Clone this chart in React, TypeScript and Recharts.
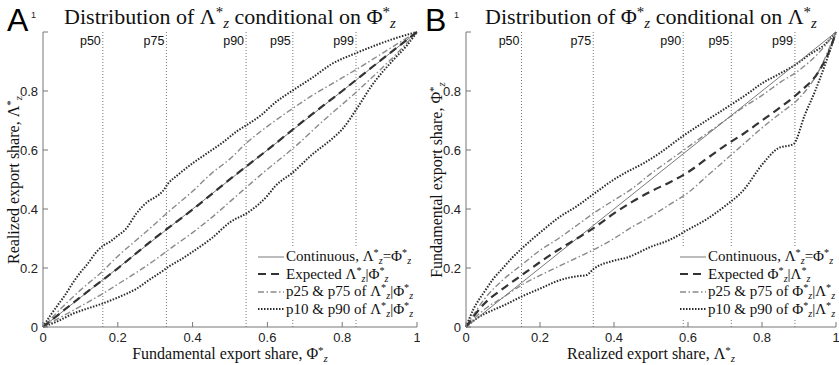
import React from "react";
import { LineChart, Line, XAxis, YAxis, ReferenceLine } from "recharts";

type Pt = { x: number; y: number };

const TICKS = [0, 0.2, 0.4, 0.6, 0.8, 1];
const PCT_LABELS = ["p50", "p75", "p90", "p95", "p99"];
const A_PCT_X = [0.16, 0.33, 0.543, 0.668, 0.837];
const B_PCT_X = [0.15, 0.344, 0.587, 0.717, 0.889];

// Panel A: Lambda conditional on Phi
const A_CONT: Pt[] = [{ x: 0, y: 0 }, { x: 1, y: 1 }];
const A_EXP: Pt[] = [
  { x: 0, y: 0 }, { x: 0.1, y: 0.101 }, { x: 0.2, y: 0.199 }, { x: 0.3, y: 0.302 },
  { x: 0.4, y: 0.398 }, { x: 0.5, y: 0.501 }, { x: 0.6, y: 0.6 }, { x: 0.7, y: 0.702 },
  { x: 0.8, y: 0.8 }, { x: 0.9, y: 0.901 }, { x: 1, y: 1 },
];
const A_P75: Pt[] = [
  { x: 0, y: 0 }, { x: 0.05, y: 0.065 }, { x: 0.1, y: 0.125 }, { x: 0.16, y: 0.19 },
  { x: 0.2, y: 0.24 }, { x: 0.25, y: 0.295 }, { x: 0.3, y: 0.35 }, { x: 0.335, y: 0.39 },
  { x: 0.4, y: 0.46 }, { x: 0.45, y: 0.52 }, { x: 0.5, y: 0.57 }, { x: 0.545, y: 0.625 },
  { x: 0.6, y: 0.68 }, { x: 0.669, y: 0.742 }, { x: 0.72, y: 0.785 }, { x: 0.78, y: 0.83 },
  { x: 0.839, y: 0.874 }, { x: 0.9, y: 0.922 }, { x: 0.95, y: 0.962 }, { x: 1, y: 1 },
];
const A_P25: Pt[] = [
  { x: 0, y: 0 }, { x: 0.05, y: 0.035 }, { x: 0.1, y: 0.07 }, { x: 0.161, y: 0.114 },
  { x: 0.2, y: 0.145 }, { x: 0.25, y: 0.185 }, { x: 0.3, y: 0.228 }, { x: 0.335, y: 0.261 },
  { x: 0.4, y: 0.32 }, { x: 0.45, y: 0.37 }, { x: 0.5, y: 0.425 }, { x: 0.545, y: 0.475 },
  { x: 0.6, y: 0.535 }, { x: 0.669, y: 0.606 }, { x: 0.75, y: 0.7 }, { x: 0.839, y: 0.798 },
  { x: 0.9, y: 0.87 }, { x: 0.95, y: 0.932 }, { x: 1, y: 1 },
];
const A_P90: Pt[] = [
  { x: 0, y: 0 }, { x: 0.02, y: 0.04 }, { x: 0.04, y: 0.075 }, { x: 0.06, y: 0.11 },
  { x: 0.08, y: 0.15 }, { x: 0.1, y: 0.185 }, { x: 0.12, y: 0.215 }, { x: 0.14, y: 0.25 },
  { x: 0.16, y: 0.275 }, { x: 0.18, y: 0.29 }, { x: 0.2, y: 0.31 }, { x: 0.22, y: 0.33 },
  { x: 0.25, y: 0.385 }, { x: 0.28, y: 0.425 }, { x: 0.3, y: 0.44 }, { x: 0.32, y: 0.46 },
  { x: 0.335, y: 0.487 }, { x: 0.36, y: 0.515 }, { x: 0.4, y: 0.555 }, { x: 0.44, y: 0.59 },
  { x: 0.48, y: 0.625 }, { x: 0.52, y: 0.665 }, { x: 0.545, y: 0.685 }, { x: 0.58, y: 0.715 },
  { x: 0.62, y: 0.76 }, { x: 0.669, y: 0.803 }, { x: 0.72, y: 0.845 }, { x: 0.77, y: 0.89 },
  { x: 0.84, y: 0.93 }, { x: 0.9, y: 0.96 }, { x: 0.95, y: 0.982 }, { x: 1, y: 1 },
];
const A_P10: Pt[] = [
  { x: 0, y: 0 }, { x: 0.04, y: 0.02 }, { x: 0.08, y: 0.045 }, { x: 0.12, y: 0.063 },
  { x: 0.16, y: 0.08 }, { x: 0.2, y: 0.1 }, { x: 0.25, y: 0.13 }, { x: 0.29, y: 0.165 },
  { x: 0.32, y: 0.19 }, { x: 0.335, y: 0.204 }, { x: 0.37, y: 0.23 }, { x: 0.4, y: 0.255 },
  { x: 0.45, y: 0.3 }, { x: 0.5, y: 0.355 }, { x: 0.55, y: 0.39 }, { x: 0.6, y: 0.445 },
  { x: 0.62, y: 0.476 }, { x: 0.669, y: 0.525 }, { x: 0.72, y: 0.585 }, { x: 0.77, y: 0.635 },
  { x: 0.8, y: 0.67 }, { x: 0.84, y: 0.742 }, { x: 0.88, y: 0.82 }, { x: 0.94, y: 0.91 },
  { x: 0.97, y: 0.95 }, { x: 1, y: 1 },
];

// Panel B: Phi conditional on Lambda
const B_CONT: Pt[] = [{ x: 0, y: 0 }, { x: 1, y: 1 }];
const B_EXP: Pt[] = [
  { x: 0, y: 0 }, { x: 0.05, y: 0.08 }, { x: 0.1, y: 0.13 }, { x: 0.15, y: 0.175 },
  { x: 0.2, y: 0.22 }, { x: 0.25, y: 0.262 }, { x: 0.3, y: 0.3 }, { x: 0.35, y: 0.34 },
  { x: 0.4, y: 0.385 }, { x: 0.45, y: 0.425 }, { x: 0.5, y: 0.46 }, { x: 0.55, y: 0.49 },
  { x: 0.6, y: 0.525 }, { x: 0.65, y: 0.57 }, { x: 0.7, y: 0.615 }, { x: 0.75, y: 0.655 },
  { x: 0.8, y: 0.7 }, { x: 0.85, y: 0.745 }, { x: 0.9, y: 0.795 }, { x: 0.95, y: 0.86 },
  { x: 0.98, y: 0.93 }, { x: 1, y: 1 },
];
const B_P75: Pt[] = [
  { x: 0, y: 0 }, { x: 0.05, y: 0.095 }, { x: 0.1, y: 0.16 }, { x: 0.15, y: 0.21 },
  { x: 0.2, y: 0.26 }, { x: 0.25, y: 0.3 }, { x: 0.3, y: 0.345 }, { x: 0.35, y: 0.39 },
  { x: 0.4, y: 0.43 }, { x: 0.45, y: 0.47 }, { x: 0.5, y: 0.52 }, { x: 0.55, y: 0.565 },
  { x: 0.6, y: 0.61 }, { x: 0.65, y: 0.655 }, { x: 0.7, y: 0.7 }, { x: 0.75, y: 0.745 },
  { x: 0.8, y: 0.785 }, { x: 0.85, y: 0.83 }, { x: 0.9, y: 0.87 }, { x: 0.95, y: 0.925 },
  { x: 1, y: 1 },
];
const B_P25: Pt[] = [
  { x: 0, y: 0 }, { x: 0.05, y: 0.06 }, { x: 0.1, y: 0.1 }, { x: 0.15, y: 0.142 },
  { x: 0.2, y: 0.175 }, { x: 0.25, y: 0.205 }, { x: 0.3, y: 0.235 }, { x: 0.35, y: 0.265 },
  { x: 0.4, y: 0.3 }, { x: 0.45, y: 0.34 }, { x: 0.5, y: 0.375 }, { x: 0.55, y: 0.415 },
  { x: 0.6, y: 0.455 }, { x: 0.65, y: 0.51 }, { x: 0.7, y: 0.565 }, { x: 0.75, y: 0.62 },
  { x: 0.8, y: 0.675 }, { x: 0.85, y: 0.725 }, { x: 0.9, y: 0.775 }, { x: 0.95, y: 0.86 },
  { x: 1, y: 1 },
];
const B_P90: Pt[] = [
  { x: 0, y: 0 }, { x: 0.02, y: 0.06 }, { x: 0.05, y: 0.12 }, { x: 0.075, y: 0.165 },
  { x: 0.1, y: 0.2 }, { x: 0.125, y: 0.235 }, { x: 0.15, y: 0.265 }, { x: 0.2, y: 0.32 },
  { x: 0.254, y: 0.374 }, { x: 0.3, y: 0.41 }, { x: 0.344, y: 0.45 }, { x: 0.4, y: 0.5 },
  { x: 0.434, y: 0.525 }, { x: 0.48, y: 0.555 }, { x: 0.524, y: 0.59 }, { x: 0.587, y: 0.648 },
  { x: 0.65, y: 0.7 }, { x: 0.718, y: 0.755 }, { x: 0.76, y: 0.79 }, { x: 0.8, y: 0.826 },
  { x: 0.85, y: 0.86 }, { x: 0.889, y: 0.888 }, { x: 0.93, y: 0.925 }, { x: 0.97, y: 0.958 },
  { x: 1, y: 1 },
];
const B_P10: Pt[] = [
  { x: 0, y: 0 }, { x: 0.03, y: 0.03 }, { x: 0.074, y: 0.058 }, { x: 0.1, y: 0.072 },
  { x: 0.15, y: 0.103 }, { x: 0.2, y: 0.13 }, { x: 0.254, y: 0.159 }, { x: 0.3, y: 0.172 },
  { x: 0.326, y: 0.176 }, { x: 0.344, y: 0.196 }, { x: 0.4, y: 0.225 }, { x: 0.434, y: 0.235 },
  { x: 0.5, y: 0.272 }, { x: 0.55, y: 0.295 }, { x: 0.6, y: 0.33 }, { x: 0.65, y: 0.365 },
  { x: 0.7, y: 0.41 }, { x: 0.75, y: 0.464 }, { x: 0.8, y: 0.55 }, { x: 0.844, y: 0.606 },
  { x: 0.885, y: 0.62 }, { x: 0.916, y: 0.72 }, { x: 0.943, y: 0.798 }, { x: 0.97, y: 0.888 },
  { x: 1, y: 1 },
];

const SERIF = "'Liberation Serif', 'Times New Roman', serif";
const SANS = "'Liberation Sans', Arial, sans-serif";
const FRAME = "#777";

const STYLES = {
  cont: { stroke: "#7a7a7a", strokeWidth: 1, dash: undefined as string | undefined },
  exp: { stroke: "#333", strokeWidth: 2.2, dash: "8 5" },
  q: { stroke: "#8a8a8a", strokeWidth: 1.4, dash: "6 2.5 1.5 2.5" },
  d: { stroke: "#2a2a2a", strokeWidth: 2, dash: "1.5 1.5" },
};

// symbol with * superscript and z subscript
const Sym = ({ b }: { b: string }) => (
  <span>
    {b}
    <span style={{ fontSize: "0.68em", verticalAlign: "0.5em", lineHeight: 0 }}>*</span>
    <span style={{ fontSize: "0.68em", verticalAlign: "-0.3em", lineHeight: 0, fontStyle: "italic" }}>z</span>
  </span>
);

const BottomTick = (p: any) => (
  <g>
    <line x1={p.x} x2={p.x} y1={p.y} y2={p.y - 5} stroke={FRAME} />
    <text x={p.x} y={p.y + 15} textAnchor="middle" fontSize={13} fill="#222" fontFamily={SANS}>
      {String(p.payload.value)}
    </text>
  </g>
);
const TopTick = (p: any) => <line x1={p.x} x2={p.x} y1={p.y} y2={p.y + 5} stroke={FRAME} />;
const LeftTick = (p: any) => {
  const v = p.payload.value;
  const top = v === 1;
  return (
    <g>
      <line x1={p.x} x2={p.x + 5} y1={p.y} y2={p.y} stroke={FRAME} />
      <text
        x={p.x - (top ? 7 : 5)}
        y={p.y + (top ? -14 : 4.5)}
        textAnchor="end"
        fontSize={top ? 9 : 13}
        fill="#222"
        fontFamily={SANS}
      >
        {String(v)}
      </text>
    </g>
  );
};
const RightTick = (p: any) => <line x1={p.x} x2={p.x - 5} y1={p.y} y2={p.y} stroke={FRAME} />;

type Series = { cont: Pt[]; exp: Pt[]; p75: Pt[]; p25: Pt[]; p90: Pt[]; p10: Pt[] };

function Panel({ left, width, mLeft, s, pct }: { left: number; width: number; mLeft: number; s: Series; pct: number[] }) {
  const line = (data: Pt[], st: { stroke: string; strokeWidth: number; dash?: string }, key: string) => (
    <Line
      key={key}
      xAxisId="b"
      yAxisId="l"
      data={data}
      dataKey="y"
      type="monotone"
      stroke={st.stroke}
      strokeWidth={st.strokeWidth}
      strokeDasharray={st.dash}
      dot={false}
      activeDot={false}
      isAnimationActive={false}
    />
  );
  return (
    <div style={{ position: "absolute", left, top: 0 }}>
      <LineChart width={width} height={365} margin={{ top: 32, right: 3, bottom: 0, left: mLeft }}>
        <XAxis xAxisId="b" type="number" dataKey="x" domain={[0, 1]} ticks={TICKS} tickSize={0} tickMargin={0} height={38} stroke={FRAME} tick={<BottomTick />} interval={0} />
        <XAxis xAxisId="t" orientation="top" type="number" dataKey="x" domain={[0, 1]} ticks={TICKS} tickSize={0} tickMargin={0} height={0} stroke={FRAME} tick={<TopTick />} interval={0} />
        <YAxis yAxisId="l" type="number" domain={[0, 1]} ticks={TICKS} tickSize={0} tickMargin={0} width={35} stroke={FRAME} tick={<LeftTick />} interval={0} />
        <YAxis yAxisId="r" orientation="right" type="number" domain={[0, 1]} ticks={TICKS} tickSize={0} tickMargin={0} width={0} stroke={FRAME} tick={<RightTick />} interval={0} />
        {pct.map((px, i) => (
          <ReferenceLine
            key={PCT_LABELS[i]}
            xAxisId="b"
            yAxisId="l"
            x={px}
            stroke="#777"
            strokeDasharray="1 2"
            label={(props: any) => (
              <text x={props.viewBox.x - 2} y={props.viewBox.y + 13} textAnchor="end" fontSize={12.5} fill="#111" fontFamily={SANS}>
                {PCT_LABELS[i]}
              </text>
            )}
          />
        ))}
        {line(s.p90, STYLES.d, "p90")}
        {line(s.p10, STYLES.d, "p10")}
        {line(s.p75, STYLES.q, "p75")}
        {line(s.p25, STYLES.q, "p25")}
        {line(s.cont, STYLES.cont, "cont")}
        {line(s.exp, STYLES.exp, "exp")}
      </LineChart>
    </div>
  );
}

function LegendBox({ left, rows }: { left: number; rows: React.ReactNode[] }) {
  const st = [STYLES.cont, STYLES.exp, STYLES.q, STYLES.d];
  return (
    <div style={{ position: "absolute", left, top: 248, width: 154, background: "#fff", fontFamily: SERIF, fontSize: 15, color: "#111" }}>
      {rows.map((r, i) => (
        <div key={i} style={{ display: "flex", alignItems: "center", height: 17.5, whiteSpace: "nowrap" }}>
          <svg width={26} height={8} style={{ flex: "none" }}>
            <line x1={0} x2={26} y1={4} y2={4} stroke={st[i].stroke} strokeWidth={st[i].strokeWidth} strokeDasharray={st[i].dash} />
          </svg>
          <span style={{ marginLeft: 2 }}>{r}</span>
        </div>
      ))}
    </div>
  );
}

const L = <Sym b="Λ" />;
const P = <Sym b="Φ" />;

export default function App() {
  const txt: React.CSSProperties = { position: "absolute", fontFamily: SERIF, color: "#111", whiteSpace: "nowrap" };
  return (
    <div style={{ position: "absolute", left: 0, top: 0, width: 839, height: 365, background: "#fff", overflow: "hidden" }}>
      <Panel left={0} width={420} mLeft={8} s={{ cont: A_CONT, exp: A_EXP, p75: A_P75, p25: A_P25, p90: A_P90, p10: A_P10 }} pct={A_PCT_X} />
      <Panel left={420} width={419} mLeft={11} s={{ cont: B_CONT, exp: B_EXP, p75: B_P75, p25: B_P25, p90: B_P90, p10: B_P10 }} pct={B_PCT_X} />

      <div style={{ position: "absolute", left: 7, top: 4, fontFamily: SANS, fontSize: 32, lineHeight: 1 }}>A</div>
      <div style={{ position: "absolute", left: 425, top: 4, fontFamily: SANS, fontSize: 32, lineHeight: 1 }}>B</div>

      <div style={{ ...txt, left: 43, width: 374, top: 6, textAlign: "center", fontSize: 22, lineHeight: 1 }}>
        Distribution of {L} conditional on {P}
      </div>
      <div style={{ ...txt, left: 466, width: 370, top: 6, textAlign: "center", fontSize: 22, lineHeight: 1 }}>
        Distribution of {P} conditional on {L}
      </div>

      <div style={{ ...txt, left: 43, width: 374, top: 346, textAlign: "center", fontSize: 16, lineHeight: 1 }}>
        Fundamental export share, {P}
      </div>
      <div style={{ ...txt, left: 466, width: 370, top: 346, textAlign: "center", fontSize: 16, lineHeight: 1 }}>
        Realized export share, {L}
      </div>

      <div style={{ ...txt, left: 14, top: 180, fontSize: 16, lineHeight: 1, transform: "translate(-50%, -50%) rotate(-90deg)" }}>
        Realized export share, {L}
      </div>
      <div style={{ ...txt, left: 437, top: 180, fontSize: 16, lineHeight: 1, transform: "translate(-50%, -50%) rotate(-90deg)" }}>
        Fundamental export share, {P}
      </div>

      <LegendBox
        left={258}
        rows={[
          <>Continuous, {L}={P}</>,
          <>Expected {L}|{P}</>,
          <>p25 &amp; p75 of {L}|{P}</>,
          <>p10 &amp; p90 of {L}|{P}</>,
        ]}
      />
      <LegendBox
        left={680}
        rows={[
          <>Continuous, {L}={P}</>,
          <>Expected {P}|{L}</>,
          <>p25 &amp; p75 of {P}|{L}</>,
          <>p10 &amp; p90 of {P}|{L}</>,
        ]}
      />
    </div>
  );
}
